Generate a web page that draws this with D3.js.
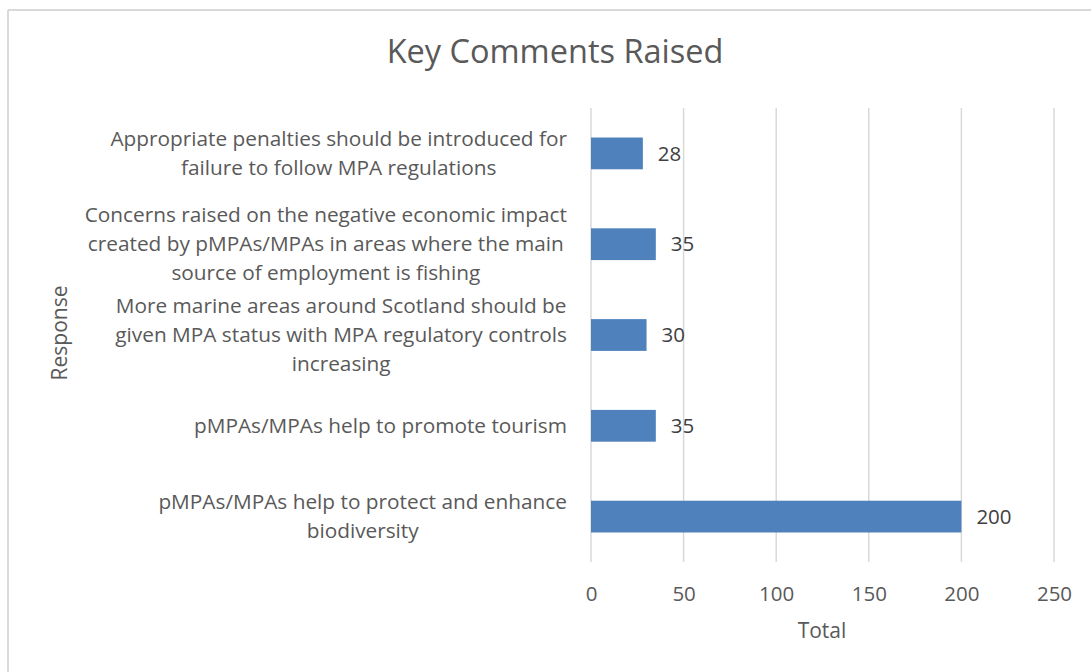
<!DOCTYPE html>
<html><head><meta charset="utf-8">
<script src="https://cdn.jsdelivr.net/npm/d3@7"></script>
<style>
body{margin:0;background:#fff;}
svg{display:block;}
text{font-family:"Open Sans","Noto Sans",sans-serif;}
</style></head>
<body>
<svg id="chart" width="1091" height="672"></svg>
<script>
const categories = [
  ["Appropriate penalties should be introduced for","failure to follow MPA regulations"],
  ["Concerns raised on the negative economic impact","created by pMPAs/MPAs in areas where the main","source of employment is fishing"],
  ["More marine areas around Scotland should be","given MPA status with MPA regulatory controls","increasing"],
  ["pMPAs/MPAs help to promote tourism"],
  ["pMPAs/MPAs help to protect and enhance","biodiversity"]
];
const values = [28, 35, 30, 35, 200];
const xTicks = [0, 50, 100, 150, 200, 250];
const title = "Key Comments Raised";
const xTitle = "Total";
const yTitle = "Response";

const svg = d3.select("#chart");
const W = 1091, H = 672;
const m = {left:591, right:1054, top:108, bottom:562};

// outer border (top and left visible)
svg.append("line").attr("x1",8).attr("x2",W).attr("y1",10).attr("y2",10).attr("stroke","#d9d9d9").attr("stroke-width",2);
svg.append("line").attr("x1",8).attr("x2",8).attr("y1",10).attr("y2",H).attr("stroke","#d9d9d9").attr("stroke-width",2);

const x = d3.scaleLinear().domain([0,250]).range([m.left,m.right]);
const y = d3.scaleBand().domain(d3.range(categories.length)).range([m.top,m.bottom]).paddingInner(0.65).paddingOuter(0.325);

// gridlines
svg.append("g").selectAll("line").data(xTicks).join("line")
  .attr("x1",d=>x(d)).attr("x2",d=>x(d)).attr("y1",m.top).attr("y2",m.bottom)
  .attr("stroke","#d9d9d9").attr("stroke-width",1.5);

// bars
svg.append("g").selectAll("rect").data(values).join("rect")
  .attr("x",x(0)).attr("y",(d,i)=>y(i)).attr("width",d=>x(d)-x(0)).attr("height",y.bandwidth())
  .attr("fill","#4f81bd");

// data labels
svg.append("g").selectAll("text").data(values).join("text")
  .attr("x",d=>x(d)+15).attr("y",(d,i)=>y(i)+y.bandwidth()/2).attr("dy","0.35em")
  .attr("font-size",20.5).attr("fill","#404040").text(d=>d);

// x axis tick labels
const xAxis = d3.axisBottom(x).tickValues(xTicks).tickSize(0).tickPadding(24);
const gx = svg.append("g").attr("transform",`translate(0,${m.bottom})`).call(xAxis);
gx.select(".domain").remove();
gx.selectAll("text").attr("font-size",20.5).attr("fill","#595959").attr("font-family","'Open Sans','Noto Sans',sans-serif");

// category labels
const rightEdge = 567, lineH = 29;
const cg = svg.append("g");
categories.forEach((lines,i)=>{
  const cy = y(i)+y.bandwidth()/2;
  const t = cg.append("text").attr("font-size",20.8).attr("fill","#595959").attr("text-anchor","middle");
  lines.forEach((ln,j)=>{
    t.append("tspan").attr("y", cy + (j-(lines.length-1)/2)*lineH).attr("dy","0.35em").text(ln);
  });
  let maxW = 0;
  t.selectAll("tspan").each(function(){ maxW = Math.max(maxW, this.getComputedTextLength()); });
  t.selectAll("tspan").attr("x", rightEdge - maxW/2);
});

// titles
svg.append("text").attr("x",555).attr("y",52).attr("dy","0.35em").attr("text-anchor","middle")
  .attr("font-size",32.5).attr("fill","#595959").text(title);
svg.append("text").attr("x",822).attr("y",631).attr("dy","0.35em").attr("text-anchor","middle")
  .attr("font-size",21).attr("fill","#595959").text(xTitle);
svg.append("text").attr("transform","translate(60,333) rotate(-90)").attr("dy","0.35em").attr("text-anchor","middle")
  .attr("font-size",21).attr("fill","#595959").text(yTitle);
</script>
</body></html>
